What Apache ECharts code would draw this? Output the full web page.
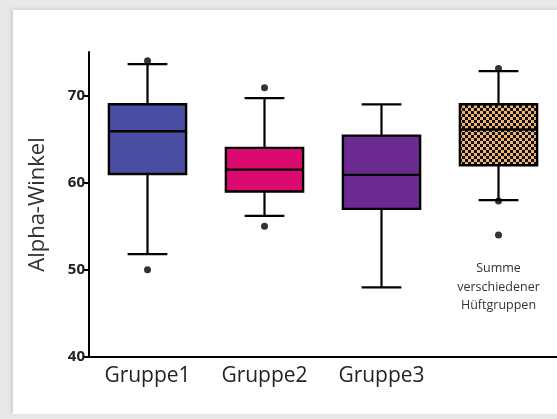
<!DOCTYPE html>
<html>
<head>
<meta charset="utf-8">
<script src="https://cdn.jsdelivr.net/npm/echarts@6/dist/echarts.min.js"></script>
<style>
  html, body { margin: 0; padding: 0; background: #e9e9e9; width: 557px; height: 419px; overflow: hidden; }
  #frame { position: absolute; left: 13px; top: 10px; width: 560px; height: 404px; background: #fff; box-shadow: -2px -1px 4px rgba(0,0,0,0.12); }
  #chart { position: absolute; left: 0; top: 0; width: 557px; height: 419px; }
</style>
</head>
<body>
<div id="frame"></div>
<div id="chart"></div>
<script>
// ---- data ----
const categories = ['Gruppe1', 'Gruppe2', 'Gruppe3', ''];
const whiskerLow  = [51.8, 56.2, 48.0, 58.0];
const q1          = [61.0, 59.0, 57.0, 62.0];
const median      = [65.9, 61.5, 60.9, 66.1];
const q3          = [69.0, 64.0, 65.4, 69.0];
const whiskerHigh = [73.6, 69.7, 69.0, 72.8];
const outliers = [[0, 74.0], [0, 50.0], [1, 70.9], [1, 55.0], [3, 73.1], [3, 57.9], [3, 54.0]];
const yTicks = [40, 50, 60, 70];
const boxColors = ['#4a4ea2', '#db0a6f', '#6b2a8f', 'pattern'];
const noteText = 'Summe\nverschiedener\nHüftgruppen';
const noteValue = 48.0;

// checkered pattern for the 4th box
const pc = document.createElement('canvas');
pc.width = 6; pc.height = 6;
const px = pc.getContext('2d');
px.fillStyle = '#f1b374'; px.fillRect(0, 0, 6, 6);
px.fillStyle = '#111'; px.fillRect(0, 0, 3, 3); px.fillRect(3, 3, 3, 3);

const boxData = categories.map((c, i) => [i, whiskerLow[i], q1[i], median[i], q3[i], whiskerHigh[i]]);

const chart = echarts.init(document.getElementById('chart'));
chart.setOption({
  backgroundColor: 'transparent',
  animation: false,
  grid: { left: 89, right: -2, top: 52, bottom: 62, containLabel: false },
  xAxis: {
    type: 'category',
    data: categories,
    axisLine: { lineStyle: { color: '#000', width: 2 } },
    axisTick: { alignWithLabel: true, length: 4, lineStyle: { color: '#000', width: 2 } },
    axisLabel: { color: '#222', fontSize: 21, fontFamily: 'Open Sans', margin: 9 },
    splitLine: { show: false }
  },
  yAxis: {
    type: 'value',
    min: 40, max: 75, interval: 10,
    name: 'Alpha-Winkel',
    nameLocation: 'middle',
    nameGap: 40,
    nameRotate: 90,
    nameTextStyle: { color: '#333', fontSize: 22, fontFamily: 'Open Sans' },
    axisLine: { show: true, lineStyle: { color: '#000', width: 2 } },
    axisTick: { show: true, length: 5, lineStyle: { color: '#000', width: 2 }, customValues: yTicks },
    axisLabel: { color: '#222', fontSize: 15, fontWeight: 'bold', fontFamily: 'Open Sans', margin: 4, customValues: yTicks },
    splitLine: { show: false }
  },
  series: [
    {
      type: 'custom',
      data: boxData,
      encode: { x: 0, y: [1, 2, 3, 4, 5] },
      renderItem: function (params, api) {
        const i = api.value(0);
        const band = api.size([1, 0])[0];
        const bw = band * 0.66, cw = band * 0.34;
        const pLow = api.coord([i, api.value(1)]);
        const pQ1 = api.coord([i, api.value(2)]);
        const pMed = api.coord([i, api.value(3)]);
        const pQ3 = api.coord([i, api.value(4)]);
        const pHigh = api.coord([i, api.value(5)]);
        const x = pQ1[0];
        const line = { stroke: '#000', lineWidth: 2.2 };
        const fill = boxColors[i] === 'pattern' ? { image: pc, repeat: 'repeat' } : boxColors[i];
        const children = [
          { type: 'line', shape: { x1: x, y1: pHigh[1], x2: x, y2: pQ3[1] }, style: line },
          { type: 'line', shape: { x1: x, y1: pQ1[1], x2: x, y2: pLow[1] }, style: line },
          { type: 'line', shape: { x1: x - cw / 2, y1: pHigh[1], x2: x + cw / 2, y2: pHigh[1] }, style: line },
          { type: 'line', shape: { x1: x - cw / 2, y1: pLow[1], x2: x + cw / 2, y2: pLow[1] }, style: line },
          { type: 'rect', shape: { x: x - bw / 2, y: pQ3[1], width: bw, height: pQ1[1] - pQ3[1] },
            style: { fill: fill, stroke: '#000', lineWidth: 2.4 } },
          { type: 'line', shape: { x1: x - bw / 2, y1: pMed[1], x2: x + bw / 2, y2: pMed[1] }, style: { stroke: '#000', lineWidth: 2.4 } }
        ];
        if (i === 3) {
          const pn = api.coord([i, noteValue]);
          children.push({ type: 'text', x: pn[0], y: pn[1],
            style: { text: noteText, fill: '#333', font: '12.5px "Open Sans"', lineHeight: 18.5,
                     align: 'center', verticalAlign: 'middle' } });
        }
        return { type: 'group', children: children };
      },
      z: 2
    },
    {
      type: 'scatter',
      data: outliers,
      symbol: 'circle',
      symbolSize: 7,
      itemStyle: { color: '#000' },
      z: 3
    }
  ]
});
</script>
</body>
</html>
